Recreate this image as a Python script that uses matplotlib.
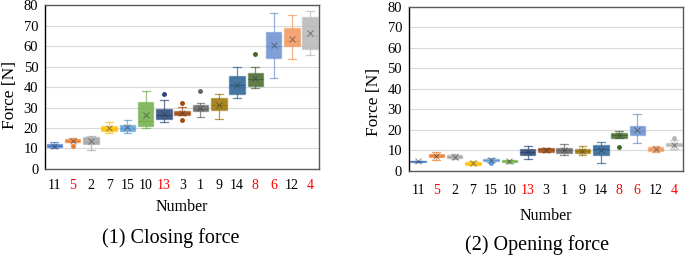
import matplotlib
matplotlib.use('Agg')
import matplotlib.pyplot as plt
from matplotlib.colors import to_rgba

plt.rcParams['font.family'] = ['Liberation Serif', 'DejaVu Serif']

numbers = ['11', '5', '2', '7', '15', '10', '13', '3', '1', '9', '14', '8', '6', '12', '4']
red_numbers = ['5', '13', '8', '6', '4']
colors = ['#4472C4', '#ED7D31', '#A5A5A5', '#FFC000', '#5B9BD5', '#70AD47', '#264478',
          '#9E480E', '#636363', '#997300', '#255E91', '#43682B', '#698ED0', '#F1975A', '#B7B7B7']

# closing force
close_q1 = [10.7, 13.3, 12.0, 18.3, 18.7, 20.8, 24.4, 26.5, 28.2, 28.6, 36.7, 40.4, 54.4, 59.9, 58.8]
close_med = [11.2, 13.8, 13.3, 19.5, 20.0, 23.5, 26.5, 27.5, 29.5, 31.0, 41.0, 44.0, 60.0, 62.5, 65.0]
close_q3 = [12.3, 14.6, 15.7, 20.9, 21.4, 32.8, 29.4, 28.4, 31.2, 34.6, 45.3, 46.8, 66.7, 68.8, 74.0]
close_lo = [10.4, 13.3, 9.1, 17.8, 17.5, 19.8, 22.7, 26.5, 25.3, 24.4, 34.6, 39.4, 44.2, 53.7, 55.5]
close_hi = [13.0, 14.9, 16.2, 22.7, 23.7, 38.0, 33.6, 30.4, 32.0, 36.5, 50.0, 49.8, 76.0, 75.2, 77.0]
close_mean = [11.2, 13.5, 13.5, 20.0, 20.5, 26.5, 27.0, 27.5, 30.0, 31.0, 41.0, 44.5, 60.3, 63.5, 66.5]
close_fliers = [[], [11.0], [], [], [], [], [36.7], [32.3, 23.9], [38.1], [], [], [56.3], [], [], []]

# opening force
open_q1 = [4.5, 6.7, 6.4, 3.1, 4.7, 4.2, 7.8, 9.4, 8.8, 8.6, 7.8, 16.3, 17.4, 9.6, 12.0]
open_med = [4.7, 7.5, 6.8, 3.8, 5.3, 4.7, 9.3, 10.5, 10.0, 9.8, 10.5, 17.5, 19.5, 10.5, 12.8]
open_q3 = [4.9, 8.3, 7.7, 4.4, 5.7, 5.2, 10.7, 11.1, 11.2, 10.9, 12.5, 18.6, 21.8, 11.7, 13.8]
open_lo = [4.4, 5.4, 5.7, 2.8, 4.4, 4.0, 6.0, 9.4, 7.8, 7.7, 3.9, 16.1, 13.5, 9.3, 10.9]
open_hi = [5.0, 9.3, 8.1, 4.7, 6.4, 5.5, 12.2, 11.4, 13.2, 12.2, 14.0, 19.4, 27.7, 12.2, 15.1]
open_mean = [4.7, 7.5, 6.8, 3.8, 5.3, 4.7, 9.5, 10.4, 10.0, 9.8, 10.0, 17.5, 20.0, 10.5, 12.8]
open_fliers = [[], [], [], [], [3.8], [], [], [], [], [], [], [11.9], [], [], [16.3]]


def draw(ax, q1, med, q3, lo, hi, mean, fliers, xpad, lpad, ylab_y):
    stats = []
    for i in range(len(numbers)):
        stats.append(dict(q1=q1[i], med=med[i], q3=q3[i], whislo=lo[i], whishi=hi[i],
                          mean=mean[i], fliers=fliers[i]))
    bp = ax.bxp(stats, positions=range(1, 16), widths=0.85, showmeans=True,
                patch_artist=True, manage_ticks=False)
    for i, c in enumerate(colors):
        bp['boxes'][i].set_facecolor(to_rgba(c, 0.85))
        bp['boxes'][i].set_edgecolor(to_rgba(c, 0.45))
        bp['boxes'][i].set_linewidth(1.0)
        bp['medians'][i].set_color(to_rgba(c, 0.9))
        bp['medians'][i].set_linewidth(0.8)
        for w in bp['whiskers'][2 * i:2 * i + 2] + bp['caps'][2 * i:2 * i + 2]:
            w.set_color(to_rgba(c, 0.7))
            w.set_linewidth(0.9)
        bp['means'][i].set(marker='x', markeredgecolor=to_rgba('#404040', 0.6),
                           markersize=5, markeredgewidth=0.7)
        bp['fliers'][i].set(marker='o', markerfacecolor=c, markeredgecolor=c, markersize=2.5)
    ax.set_xlim(0.5, 15.5)
    ax.set_ylim(0, 80)
    ax.set_yticks(range(0, 81, 10))
    ax.set_xticks(range(1, 16))
    ax.set_xticklabels(numbers)
    for t in ax.get_xticklabels():
        if t.get_text() in red_numbers:
            t.set_color('red')
    ax.grid(axis='y', color='#D9D9D9', linewidth=0.8)
    ax.set_axisbelow(True)
    ax.tick_params(length=0, labelsize=10)
    ax.tick_params(axis='y', labelsize=10.5, pad=5)
    ax.tick_params(axis='x', pad=xpad)
    for s in ax.spines.values():
        s.set_color('#595959')
        s.set_linewidth(1.0)
    ax.spines['left'].set_color('black')
    ax.set_ylabel('Force [N]', fontsize=12.5)
    ax.yaxis.set_label_coords(-0.098, ylab_y)
    ax.set_xlabel('Number', fontsize=11.5, labelpad=lpad)


fig = plt.figure(figsize=(6.85, 2.56), dpi=100)
ax1 = fig.add_axes([0.066, 0.34, 0.40, 0.64])
ax2 = fig.add_axes([0.597, 0.332, 0.40, 0.641])
draw(ax1, close_q1, close_med, close_q3, close_lo, close_hi, close_mean, close_fliers, 7, 5, 0.45)
draw(ax2, open_q1, open_med, open_q3, open_lo, open_hi, open_mean, open_fliers, 9, 8, 0.42)
fig.text(0.25, 0.07, '(1) Closing force', fontsize=14.5, ha='center', va='center')
fig.text(0.784, 0.043, '(2) Opening force', fontsize=14.5, ha='center', va='center')
fig.savefig('out.png', dpi=100)
